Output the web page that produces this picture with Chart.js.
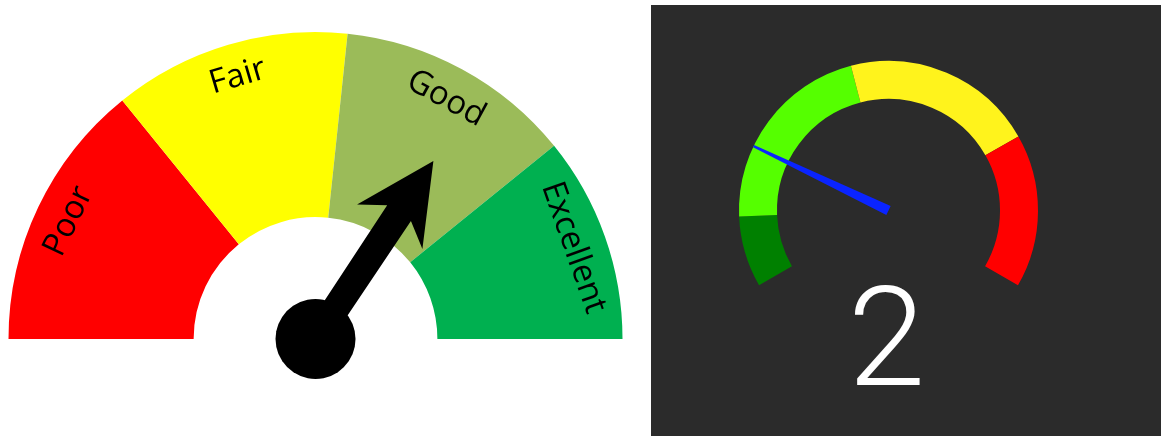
<!DOCTYPE html>
<html>
<head>
<meta charset="utf-8">
<script src="https://cdn.jsdelivr.net/npm/chart.js@4.4.1/dist/chart.umd.min.js"></script>
<style>
    html, body { margin: 0; padding: 0; background: #fff; }
    body { width: 1161px; height: 436px; position: relative; overflow: hidden; }
    #ratingWrap { position: absolute; left: 0; top: 0; width: 645px; height: 436px; }
    #levelWrap { position: absolute; left: 651px; top: 5px; width: 510px; height: 431px; background: #2b2b2b; }
</style>
</head>
<body>
<div id="ratingWrap"><canvas id="ratingGauge"></canvas></div>
<div id="levelWrap"><canvas id="levelGauge"></canvas></div>
<script>
// left gauge: bands in degrees of the half circle, needle in the same units
const ratingLabels = ['Poor', 'Fair', 'Good', 'Excellent'];
const ratingValues = [51, 45, 45, 39];
const ratingColors = ['#ff0000', '#ffff00', '#9bbb59', '#00b050'];
const ratingNeedle = 123.5;

// right gauge: bands on a 0..8.65 scale, needle value shown below
const levelLabels = ['low', 'normal', 'high', 'critical'];
const levelValues = [1, 2.8, 2.7, 2.15];
const levelColors = ['#008000', '#55ff00', '#fff31c', '#ff0000'];
const levelNeedle = 2;

(function () {
    const sum = (arr) => arr.reduce((a, b) => a + b, 0);

    // angle on the drawn arc for a value, taken from the library's arc elements
    const angleFor = (meta, values, value) => {
        const arcs = meta.data;
        const start = arcs[0].startAngle;
        const end = arcs[arcs.length - 1].endAngle;
        return start + (end - start) * value / sum(values);
    };

    const ratingPlugin = {
        id: 'ratingDecor',
        afterDatasetsDraw(chart) {
            const ctx = chart.ctx;
            const meta = chart.getDatasetMeta(0);
            const { x, y, innerRadius, outerRadius } = meta.data[0];

            // band captions along the arc
            ctx.save();
            ctx.fillStyle = '#000';
            ctx.font = '33px "Open Sans", "Noto Sans", sans-serif';
            ctx.textAlign = 'center';
            ctx.textBaseline = 'middle';
            meta.data.forEach((arc, i) => {
                const mid = (arc.startAngle + arc.endAngle) / 2;
                const r = innerRadius + (outerRadius - innerRadius) * 0.82;
                ctx.save();
                ctx.translate(x + Math.cos(mid) * r, y + Math.sin(mid) * r);
                ctx.rotate(mid + Math.PI / 2);
                ctx.fillText(ratingLabels[i], 0, 0);
                ctx.restore();
            });
            ctx.restore();

            // arrow needle
            const a = angleFor(meta, ratingValues, ratingNeedle);
            ctx.save();
            ctx.translate(x, y);
            ctx.rotate(a);
            ctx.fillStyle = '#000';
            ctx.beginPath();
            ctx.moveTo(0, -13.5);
            ctx.lineTo(151, -14);
            ctx.lineTo(135, -39.5);
            ctx.lineTo(213.6, 0);
            ctx.lineTo(134, 39.5);
            ctx.lineTo(151, 14.5);
            ctx.lineTo(0, 13.5);
            ctx.closePath();
            ctx.fill();
            ctx.beginPath();
            ctx.arc(0, 0, 40, 0, Math.PI * 2);
            ctx.fill();
            ctx.restore();
        }
    };

    const levelPlugin = {
        id: 'levelDecor',
        afterDatasetsDraw(chart) {
            const ctx = chart.ctx;
            const meta = chart.getDatasetMeta(0);
            const { x, y, outerRadius } = meta.data[0];
            const a = angleFor(meta, levelValues, levelNeedle);

            ctx.save();
            ctx.translate(x, y);
            ctx.rotate(a);
            ctx.fillStyle = '#0a24ff';
            ctx.beginPath();
            ctx.moveTo(0, -5);
            ctx.lineTo(outerRadius, -1.2);
            ctx.lineTo(outerRadius, 1.2);
            ctx.lineTo(0, 5);
            ctx.closePath();
            ctx.fill();
            ctx.restore();

            ctx.save();
            ctx.fillStyle = '#fff';
            ctx.font = '300 140px Roboto, "Open Sans", sans-serif';
            ctx.textAlign = 'center';
            ctx.textBaseline = 'alphabetic';
            ctx.fillText(String(levelNeedle), x - 2, y + 174.5);
            ctx.restore();
        }
    };

    const baseOptions = {
        responsive: true,
        maintainAspectRatio: false,
        animation: false,
        events: [],
        plugins: {
            legend: { display: false },
            tooltip: { enabled: false }
        }
    };

    new Chart(document.getElementById('ratingGauge'), {
        type: 'doughnut',
        data: {
            labels: ratingLabels,
            datasets: [{
                data: ratingValues,
                backgroundColor: ratingColors,
                borderWidth: 0
            }]
        },
        options: {
            ...baseOptions,
            rotation: -90,
            circumference: 180,
            radius: 307,
            cutout: '39.7%',
            layout: { padding: { left: 0, right: 14, top: 0, bottom: 65 } }
        },
        plugins: [ratingPlugin]
    });

    new Chart(document.getElementById('levelGauge'), {
        type: 'doughnut',
        data: {
            labels: levelLabels,
            datasets: [{
                data: levelValues,
                backgroundColor: levelColors,
                borderWidth: 0
            }]
        },
        options: {
            ...baseOptions,
            rotation: -120,
            circumference: 240,
            radius: 149.5,
            cutout: '74.6%',
            layout: { padding: { left: 0, right: 35, top: 0, bottom: 94.75 } }
        },
        plugins: [levelPlugin]
    });
})();
</script>
</body>
</html>
